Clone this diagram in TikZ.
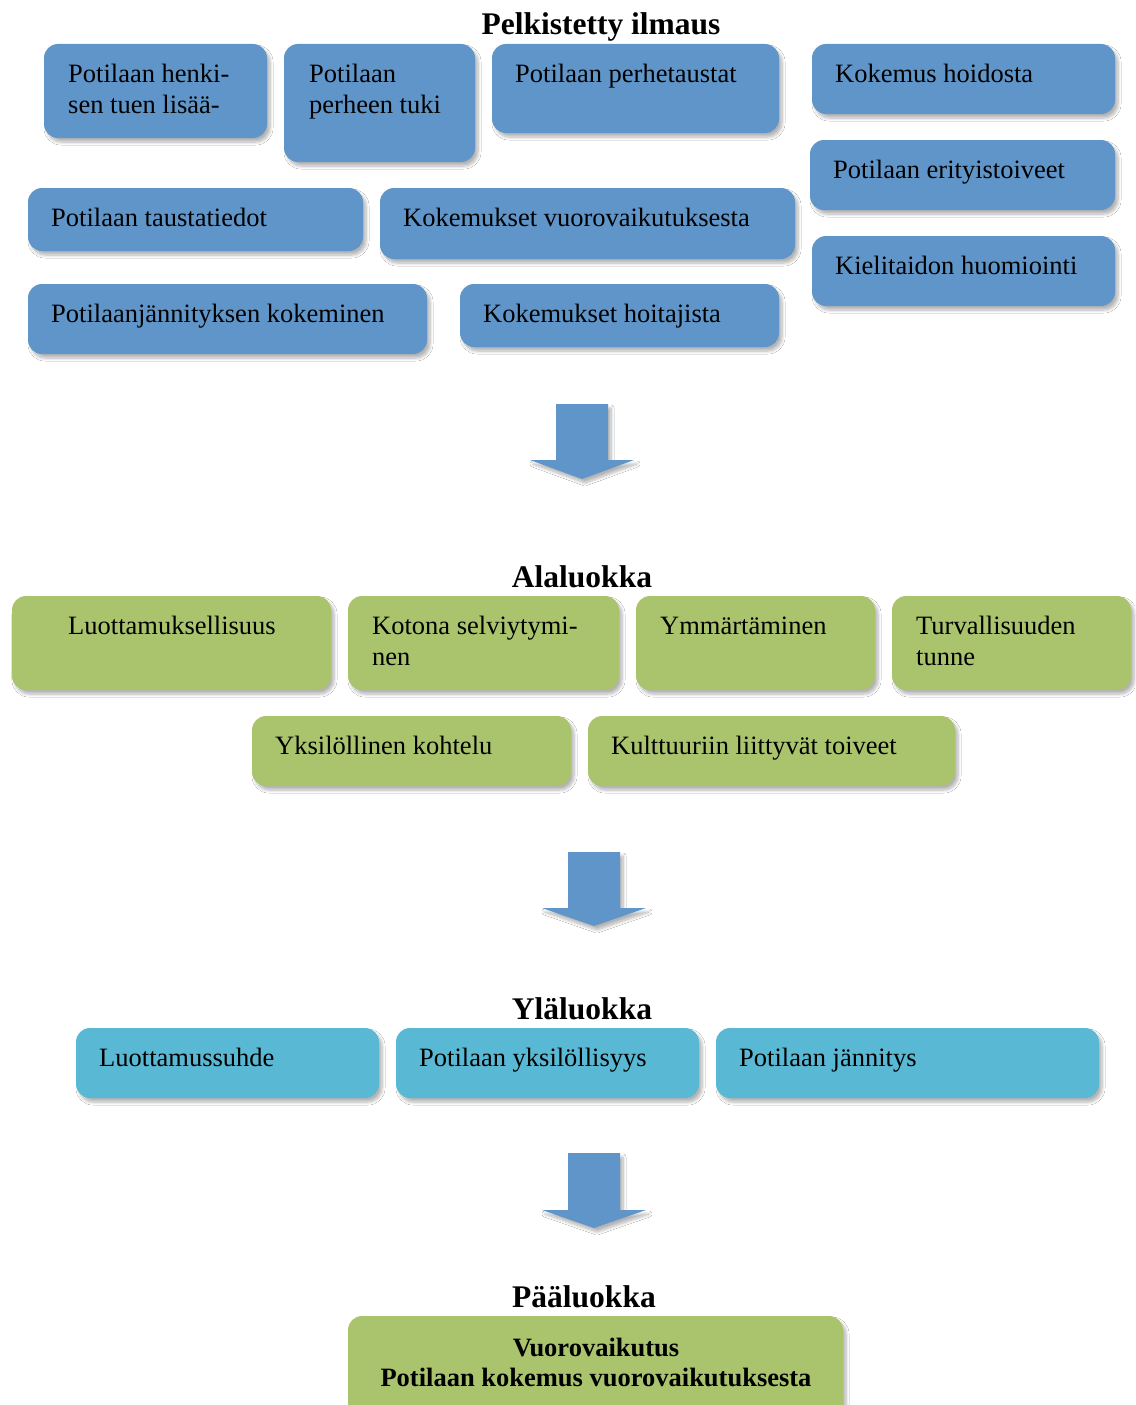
\documentclass[tikz,border=0pt]{standalone}
\usepackage{fontspec}
\setmainfont{Liberation Serif}
\usetikzlibrary{shadows.blur}

\definecolor{boxblue}{RGB}{95,149,201}
\definecolor{boxgreen}{RGB}{170,196,109}
\definecolor{boxcyan}{RGB}{89,184,211}

\tikzset{
  softshadow/.style={blur shadow={shadow xshift=3pt, shadow yshift=-4pt,
      shadow blur radius=3pt, shadow blur steps=8, shadow opacity=30}},
  card/.style={rounded corners=14pt, inner sep=0pt, softshadow},
  bluecard/.style={card, fill=boxblue},
  greencard/.style={card, fill=boxgreen},
  cyancard/.style={card, fill=boxcyan},
  lbl/.style={anchor=base west, inner sep=0pt, font=\fontsize{26.5}{31}\selectfont},
  boldlbl/.style={anchor=base, inner sep=0pt, font=\fontsize{26.5}{30}\selectfont\bfseries},
  head/.style={anchor=base, inner sep=0pt, font=\fontsize{31.5}{36}\selectfont\bfseries},
  blockarrow/.style={fill=boxblue, softshadow},
}

% style, name, x1, y1, x2, y2, text x, text
\newcommand\cardbox[8]{%
  \node[#1, minimum width={#5pt-#3pt}, minimum height={#6pt-#4pt}]
    (#2) at ({(#3+#5)/2},{(#4+#6)/2}) {};
  \node[lbl] (#2-t) at (#7,{#4+38})
    {\begin{tabular}[t]{@{}l@{}}#8\end{tabular}};
}

\begin{document}
\begin{tikzpicture}[x=1pt, y=-1pt]
\useasboundingbox[fill=white] (0,0) rectangle (1135,1405);

% reduced expressions
\node[head] (h1) at (601,35) {Pelkistetty ilmaus};
\cardbox{bluecard}{r1}{44}{44}{267}{138}{68}{Potilaan henki-\\sen tuen lisää-}
\cardbox{bluecard}{r2}{284}{44}{475}{162}{309}{Potilaan\\perheen tuki}
\cardbox{bluecard}{r3}{492}{44}{779}{133}{515}{Potilaan perhetaustat}
\cardbox{bluecard}{r4}{812}{44}{1115}{114}{835}{Kokemus hoidosta}
\cardbox{bluecard}{r5}{810}{140}{1115}{210}{833}{Potilaan erityistoiveet}
\cardbox{bluecard}{r6}{28}{188}{363}{251}{51}{Potilaan taustatiedot}
\cardbox{bluecard}{r7}{380}{188}{795}{259}{403}{Kokemukset vuorovaikutuksesta}
\cardbox{bluecard}{r8}{812}{236}{1115}{306}{835}{Kielitaidon huomiointi}
\cardbox{bluecard}{r9}{28}{284}{427}{354}{51}{Potilaanjännityksen kokeminen}
\cardbox{bluecard}{r10}{460}{284}{779}{347}{483}{Kokemukset hoitajista}

\fill[blockarrow] (556,404) -- (608,404) -- (608,460) -- (634,460)
  -- (582,479) -- (530,460) -- (556,460) -- cycle;

% subcategories
\node[head] (h2) at (582,587) {Alaluokka};
\cardbox{greencard}{s1}{12}{596}{331}{690}{68}{Luottamuksellisuus}
\cardbox{greencard}{s2}{348}{596}{619}{690}{372}{Kotona selviytymi-\\nen}
\cardbox{greencard}{s3}{636}{596}{875}{690}{660}{Ymmärtäminen}
\cardbox{greencard}{s4}{892}{596}{1131}{690}{916}{Turvallisuuden\\tunne}
\cardbox{greencard}{s5}{252}{716}{571}{786}{275}{Yksilöllinen kohtelu}
\cardbox{greencard}{s6}{588}{716}{955}{786}{611}{Kulttuuriin liittyvät toiveet}

\fill[blockarrow] (568,852) -- (620,852) -- (620,908) -- (646,908)
  -- (594,926) -- (542,908) -- (568,908) -- cycle;

% upper categories
\node[head] (h3) at (582,1019) {Yläluokka};
\cardbox{cyancard}{u1}{76}{1028}{379}{1098}{99}{Luottamussuhde}
\cardbox{cyancard}{u2}{396}{1028}{699}{1098}{419}{Potilaan yksilöllisyys}
\cardbox{cyancard}{u3}{716}{1028}{1099}{1098}{739}{Potilaan jännitys}

\fill[blockarrow] (568,1153) -- (620,1153) -- (620,1210) -- (646,1210)
  -- (594,1228) -- (542,1210) -- (568,1210) -- cycle;

% main category
\node[head] (h4) at (584,1307) {Pääluokka};
\node[greencard, minimum width=495pt, minimum height=110pt] (m) at (595.5,1371) {};
\node[boldlbl] (m-t1) at (596,1356) {Vuorovaikutus};
\node[boldlbl] (m-t2) at (596,1386) {Potilaan kokemus vuorovaikutuksesta};
\end{tikzpicture}
\end{document}
